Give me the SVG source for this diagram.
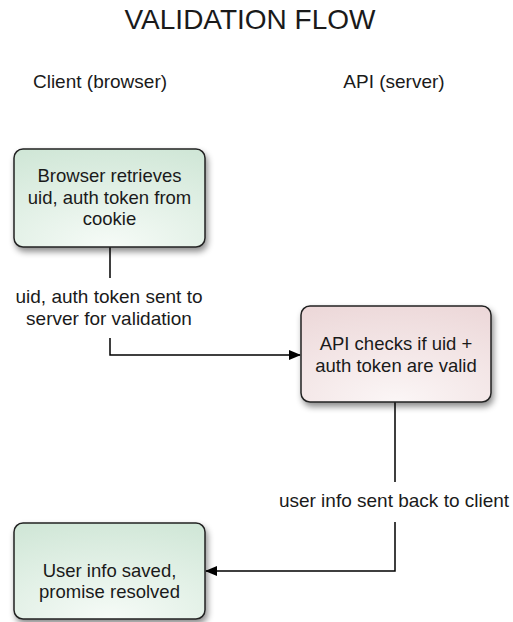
<svg xmlns="http://www.w3.org/2000/svg" width="513" height="622" viewBox="0 0 513 622">
<style>
text{font-family:"Liberation Sans",Arial,sans-serif;fill:#1a1a1a;text-anchor:middle}
.t{font-size:28px}
.h{font-size:19px}
.n{font-size:18.5px}
.box{stroke:#222;stroke-width:1.5;filter:url(#sh)}
.g{fill:url(#gg)}
.p{fill:url(#gp)}
.c{fill:none;stroke:#000;stroke-width:1.5}
</style>
<defs>
<radialGradient id="gg" cx="0.5" cy="1" r="1.1">
<stop offset="0" stop-color="#f6fbf7"/>
<stop offset="1" stop-color="#cfe6d6"/>
</radialGradient>
<radialGradient id="gp" cx="0.5" cy="1" r="1.1">
<stop offset="0" stop-color="#fbf6f6"/>
<stop offset="1" stop-color="#ecd7d8"/>
</radialGradient>
<filter id="sh" x="-10%" y="-10%" width="125%" height="130%">
<feDropShadow dx="2" dy="4" stdDeviation="3" flood-color="#000" flood-opacity="0.45"/>
</filter>
<marker id="ah" markerWidth="12" markerHeight="10" refX="11" refY="5" orient="auto" markerUnits="userSpaceOnUse">
<path d="M0,0 L12,5 L0,10 Z" fill="#000"/>
</marker>
</defs>
<text class="t" x="250" y="29">VALIDATION FLOW</text>
<text class="h" x="100" y="88">Client (browser)</text>
<text class="h" x="394" y="88">API (server)</text>
<g id="connectors">
<path class="c" d="M110,247 V278 M110,338 V355 H300" marker-end="url(#ah)"/>
<text class="h" x="109" y="303">uid, auth token sent to</text>
<text class="h" x="109" y="325">server for validation</text>
<path class="c" d="M395,402 V482 M395,522 V571 H206" marker-end="url(#ah)"/>
<text class="h" x="394" y="507">user info sent back to client</text>
</g>
<g id="browser-retrieves">
<rect class="box g" x="14" y="149" width="191" height="98" rx="9"/>
<text class="n" x="109.5" y="182">Browser retrieves</text>
<text class="n" x="109.5" y="203.5">uid, auth token from</text>
<text class="n" x="109.5" y="225">cookie</text>
</g>
<g id="api-checks">
<rect class="box p" x="301" y="306" width="190" height="96" rx="9"/>
<text class="n" x="396" y="350">API checks if uid +</text>
<text class="n" x="396" y="372">auth token are valid</text>
</g>
<g id="user-info-saved">
<rect class="box g" x="14" y="523" width="191" height="96" rx="9"/>
<text class="n" x="109.5" y="577">User info saved,</text>
<text class="n" x="109.5" y="598">promise resolved</text>
</g>
</svg>
